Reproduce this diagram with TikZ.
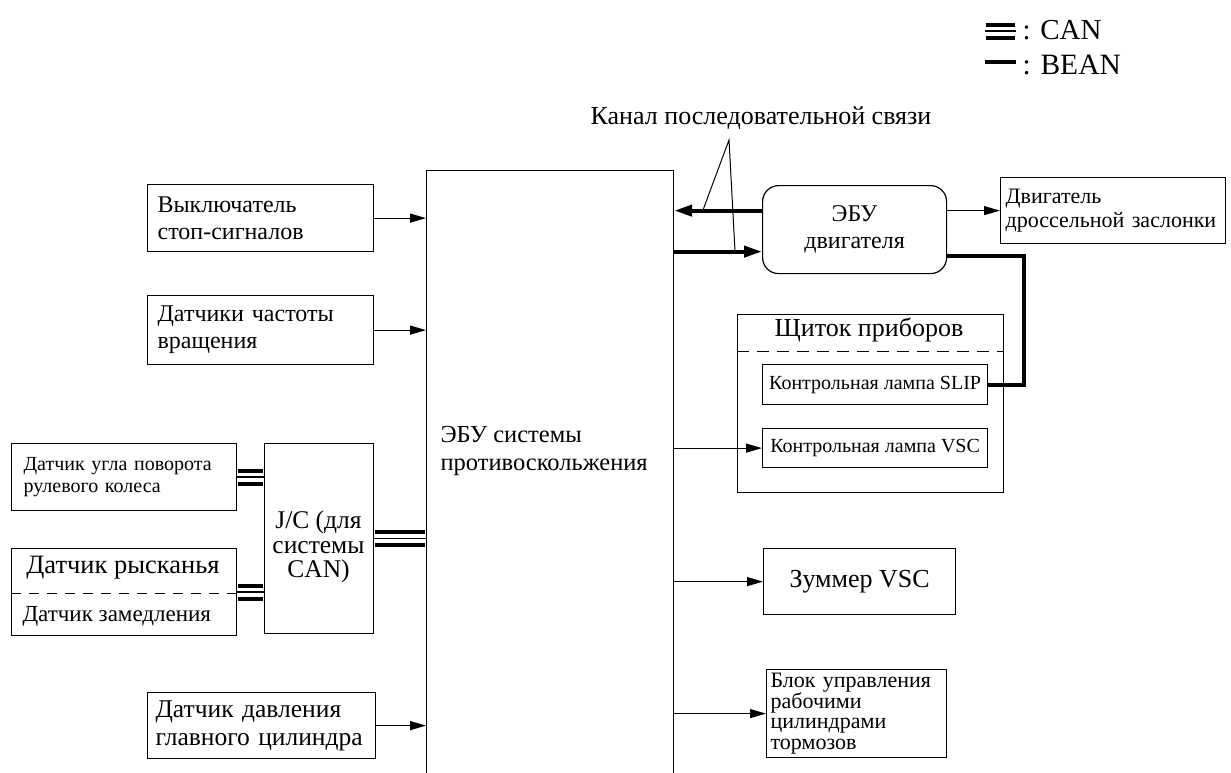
\documentclass[tikz,border=0pt]{standalone}
\usepackage{fontspec}
\setmainfont{Liberation Serif}
\usetikzlibrary{arrows.meta}
\newcommand\canbus[2]{%
  \draw[line width=4pt, double=white, double distance=9pt, shorten <=0.7pt, shorten >=0.7pt] #1 -- #2;
  \draw[line width=1.3pt] #1 -- #2;}
\newcommand\fs[2]{\fontsize{#1}{#2}\selectfont}
\begin{document}
\begin{tikzpicture}[x=1pt,y=-1pt,
  box/.style={draw, line width=1.2pt, inner sep=0pt, anchor=north west},
  arr/.style={line width=1.2pt, -{Triangle[length=16pt,width=9pt]}},
  bean/.style={line width=4pt},
  beanarr/.style={line width=4pt, -{Triangle[length=18pt,width=11pt]}},
  leader/.style={line width=1pt},
  big/.style={font=\fs{24}{27}}]
\useasboundingbox (0,0) rectangle (1231,772);

% legend
\coordinate (canA) at (985,31);
\coordinate (canB) at (1016,31);
\canbus{(canA)}{(canB)}
\node[font=\fs{29}{30}, anchor=west] (canT) at (1019,30) {: CAN};
\coordinate (beanA) at (985,62);
\coordinate (beanB) at (1016,62);
\draw[bean] (beanA) -- (beanB);
\node[font=\fs{29.5}{30}, anchor=west] (beanT) at (1019,65) {: BEAN};

% main ECU
\node[box, minimum width=247, minimum height=620] (main) at (426,170) {};
\node[font=\fs{24.5}{28}, anchor=west, align=left] (mainT) at (437,451) {ЭБУ системы\\противоскольжения};

% left inputs
\node[box, big, minimum width=226, minimum height=67, text width=206, align=left] (stop) at (147,184) {Выключатель\\стоп-сигналов};
\node[box, big, minimum width=226, minimum height=69, text width=206, align=left] (speed) at (147,295) {Датчики частоты\\вращения};
\node[box, font=\fs{25.5}{28}, minimum width=228, minimum height=66, text width=212, align=left] (press) at (147,692) {Датчик давления\\главного цилиндра};

\node[box, font=\fs{20}{22}, minimum width=225, minimum height=67, text width=201, align=left] (steer) at (11,443) {Датчик угла поворота\\рулевого колеса};
\node[box, minimum width=225, minimum height=87] (yaw) at (11,548) {};
\node[font=\fs{26.5}{28}, anchor=center] (yawT) at (123,568) {Датчик рысканья};
\node[font=\fs{23}{24}, anchor=west] (decT) at (19,616) {Датчик замедления};
\draw[line width=0.8pt, dash pattern=on 10pt off 8pt] (11,593) -- (236,593);

\node[box, minimum width=109, minimum height=190] (jc) at (264,443) {};
\node[font=\fs{25.5}{24.5}, align=center, anchor=center] (jcT) at (318.5,547) {J/C (для\\системы\\CAN)};

% CAN buses
\canbus{(steer.east)}{(steer.east -| jc.west)}
\canbus{(yaw.east)}{(yaw.east -| jc.west)}
\canbus{(jc.east)}{(jc.east -| main.west)}

% input arrows
\draw[arr] (stop.east) -- (stop.east -| main.west);
\draw[arr] (speed.east) -- (speed.east -| main.west);
\draw[arr] (press.east) -- (press.east -| main.west);

% engine ECU
\node[box, big, rounded corners=16pt, minimum width=184, minimum height=88, align=center] (ecu) at (762,185) {ЭБУ\\двигателя};
\node[box, font=\fs{22}{24}, minimum width=225, minimum height=66, text width=215, align=left] (thr) at (1000,177) {Двигатель\\дроссельной заслонки};
\draw[arr] (thr.west -| ecu.east) -- (thr.west);

\coordinate (upE) at ([yshift=19pt]ecu.west);
\coordinate (loE) at ([yshift=-22pt]ecu.west);
\draw[beanarr] (upE) -- (upE -| main.east);
\draw[beanarr] (loE -| main.east) -- (loE);

\node[font=\fs{26}{28}, anchor=center] (canal) at (761,118) {Канал последовательной связи};
\coordinate (apex) at (729,140);
\coordinate (p1) at (703,210);
\coordinate (p2) at (735,251);
\draw[leader] (p1) -- (apex) -- (p2);

% instrument panel
\node[box, minimum width=266, minimum height=178] (panel) at (737,314) {};
\node[font=\fs{26}{28}, anchor=center] (panelT) at (869,330) {Щиток приборов};
\draw[line width=1pt, dash pattern=on 12pt off 8pt] (737,351) -- (1003,351);
\node[box, font=\fs{20}{22}, minimum width=225, minimum height=40, align=center] (slip) at (762,364) {Контрольная лампа SLIP};
\node[box, font=\fs{20}{22}, minimum width=225, minimum height=39, align=center] (vsc) at (762,428) {Контрольная лампа VSC};

\draw[bean] ([yshift=-26pt]ecu.east) -- ++(77,0) |- (slip.east);
\draw[arr] (vsc.west -| main.east) -- (vsc.west);

% outputs
\node[box, font=\fs{26}{28}, minimum width=192, minimum height=66] (zum) at (763,548) {Зуммер VSC};
\draw[arr] (zum.west -| main.east) -- (zum.west);
\node[box, font=\fs{22}{20.5}, minimum width=180, minimum height=88, text width=172, align=left] (brake) at (766,669) {Блок управления\\рабочими\\цилиндрами\\тормозов};
\draw[arr] (brake.west -| main.east) -- (brake.west);
\end{tikzpicture}
\end{document}
